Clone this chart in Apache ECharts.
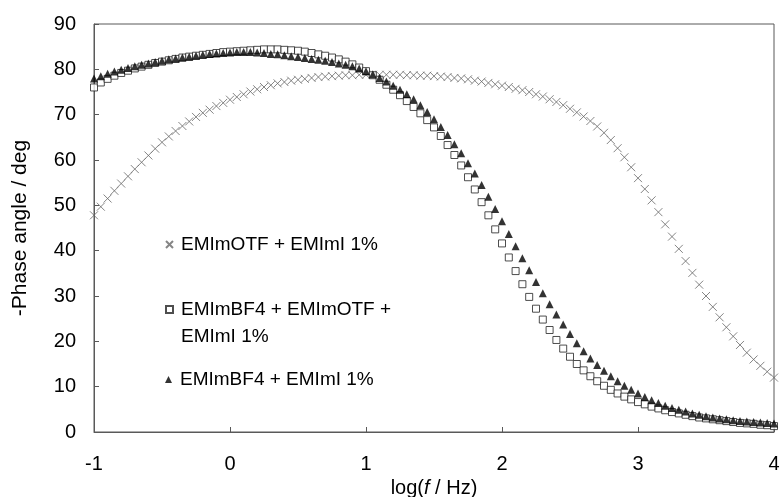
<!DOCTYPE html>
<html>
<head>
<meta charset="utf-8">
<script src="https://cdn.jsdelivr.net/npm/echarts@6/dist/echarts.min.js"></script>
<style>html,body{margin:0;padding:0;background:#fff;}#c{width:780px;height:497px;}</style>
</head>
<body>
<div id="c"></div>
<script>
var logF = [-1.00,-0.95,-0.90,-0.85,-0.80,-0.75,-0.70,-0.65,-0.60,-0.55,-0.50,-0.45,-0.40,-0.35,-0.30,-0.25,-0.20,-0.15,-0.10,-0.05,
0.00,0.05,0.10,0.15,0.20,0.25,0.30,0.35,0.40,0.45,0.50,0.55,0.60,0.65,0.70,0.75,0.80,0.85,0.90,0.95,
1.00,1.05,1.10,1.15,1.20,1.25,1.30,1.35,1.40,1.45,1.50,1.55,1.60,1.65,1.70,1.75,1.80,1.85,1.90,1.95,
2.00,2.05,2.10,2.15,2.20,2.25,2.30,2.35,2.40,2.45,2.50,2.55,2.60,2.65,2.70,2.75,2.80,2.85,2.90,2.95,
3.00,3.05,3.10,3.15,3.20,3.25,3.30,3.35,3.40,3.45,3.50,3.55,3.60,3.65,3.70,3.75,3.80,3.85,3.90,3.95,4.00];

var phaseOTF = [47.8,49.7,51.5,53.2,54.8,56.4,58.0,59.5,61.0,62.5,63.9,65.2,66.4,67.5,68.5,69.5,70.4,71.1,71.9,72.6,
73.3,73.9,74.5,75.1,75.6,76.1,76.5,76.9,77.2,77.5,77.7,77.9,78.1,78.3,78.4,78.5,78.6,78.7,78.7,78.8,
78.8,78.8,78.8,78.8,78.8,78.8,78.7,78.7,78.6,78.6,78.5,78.4,78.3,78.1,78.0,77.8,77.5,77.3,77.0,76.7,
76.4,76.1,75.7,75.4,75.0,74.5,74.0,73.4,72.8,72.1,71.3,70.5,69.6,68.6,67.4,66.0,64.4,62.6,60.6,58.4,
56.0,53.6,51.1,48.5,45.8,43.1,40.4,37.7,35.1,32.5,30.0,27.6,25.3,23.1,21.1,19.2,17.5,16.0,14.6,13.3,12.0];

var phaseBF4OTF = [76.0,77.1,77.9,78.6,79.2,79.7,80.2,80.6,81.0,81.4,81.7,82.0,82.3,82.6,82.8,83.0,83.2,83.4,83.6,83.8,
83.9,84.0,84.1,84.2,84.3,84.4,84.4,84.4,84.3,84.2,84.1,83.9,83.6,83.3,83.0,82.6,82.2,81.7,81.1,80.4,
79.6,78.7,77.7,76.6,75.5,74.3,73.0,71.7,70.3,68.8,67.2,65.3,63.3,61.1,58.8,56.2,53.5,50.7,47.8,44.7,
41.6,38.5,35.5,32.6,29.8,27.2,24.8,22.5,20.3,18.4,16.6,15.0,13.6,12.3,11.2,10.2,9.3,8.5,7.8,7.2,
6.6,6.1,5.6,5.2,4.8,4.4,4.1,3.8,3.5,3.2,3.0,2.8,2.6,2.4,2.2,2.0,1.9,1.8,1.6,1.5,1.3];

var phaseBF4 = [78.0,78.5,79.0,79.5,79.9,80.3,80.7,81.0,81.3,81.6,81.9,82.2,82.4,82.6,82.8,83.0,83.2,83.4,83.5,83.6,
83.7,83.8,83.8,83.8,83.7,83.6,83.4,83.3,83.1,82.9,82.7,82.5,82.3,82.1,81.9,81.6,81.3,81.0,80.7,80.2,
79.6,78.9,78.1,77.3,76.4,75.5,74.5,73.4,72.1,70.6,69.0,67.3,65.5,63.5,61.5,59.3,57.0,54.5,51.9,49.2,
46.5,43.7,41.0,38.3,35.7,33.1,30.6,28.2,25.9,23.7,21.6,19.6,17.8,16.2,14.8,13.5,12.3,11.2,10.2,9.3,
8.5,7.7,7.0,6.4,5.8,5.3,4.9,4.5,4.1,3.8,3.5,3.2,3.0,2.8,2.6,2.4,2.3,2.2,2.1,2.0,1.9];

var seriesNames = ['EMImOTF + EMImI 1%', 'EMImBF4 + EMImOTF + EMImI 1%', 'EMImBF4 + EMImI 1%'];
var xTicks = [-1, 0, 1, 2, 3, 4];
var yTicks = [0, 10, 20, 30, 40, 50, 60, 70, 80, 90];

function pairs(ys) { return logF.map(function (x, i) { return [x, ys[i]]; }); }

var FONT = "'Liberation Sans', Arial, sans-serif";
var AX = '#595959';
var chart = echarts.init(document.getElementById('c'), null, {renderer: 'canvas'});
var legendText = {fontFamily: FONT, fontSize: 19, color: '#000', padding: [0, 0, 0, 3]};
var legendBase = {
  orient: 'vertical', padding: 0, itemWidth: 7, itemHeight: 7, itemGap: 0,
  textStyle: legendText,
  selectedMode: false
};
chart.setOption({
  animation: false,
  backgroundColor: '#fff',
  grid: {left: 94, right: 6, top: 24, bottom: 65, show: true, borderColor: AX, borderWidth: 1,
         backgroundColor: 'transparent', containLabel: false, outerBoundsMode: 'none'},
  xAxis: {
    type: 'value', min: xTicks[0], max: xTicks[xTicks.length - 1], interval: 1,
    axisLine: {show: true, onZero: false, lineStyle: {color: AX, width: 1}},
    axisTick: {show: true, inside: true, length: 5, lineStyle: {color: AX}},
    splitLine: {show: false},
    axisLabel: {fontFamily: FONT, fontSize: 20, color: '#000', margin: 22},
    name: '{n|log(}{i|f}{n| / Hz)}', nameLocation: 'middle', nameGap: 42,
    nameTextStyle: {rich: {
      n: {fontFamily: FONT, fontSize: 20, color: '#000'},
      i: {fontFamily: FONT, fontSize: 20, color: '#000', fontStyle: 'italic'}
    }}
  },
  yAxis: {
    type: 'value', min: yTicks[0], max: yTicks[yTicks.length - 1], interval: 10,
    axisLine: {show: true, onZero: false, lineStyle: {color: AX, width: 1}},
    axisTick: {show: true, inside: true, length: 5, lineStyle: {color: AX}},
    splitLine: {show: false},
    axisLabel: {fontFamily: FONT, fontSize: 20, color: '#000', margin: 18},
    name: '-Phase angle / deg', nameLocation: 'middle', nameGap: 63,
    nameTextStyle: {fontFamily: FONT, fontSize: 21, color: '#000'}
  },
  legend: [
    Object.assign({}, legendBase, {data: [seriesNames[0]], left: 165, top: 235}),
    Object.assign({}, legendBase, {data: [seriesNames[1]], left: 165, top: 269,
      formatter: function () { return '\nEMImBF4 + EMImOTF +\nEMImI 1%'; },
      textStyle: Object.assign({}, legendText, {lineHeight: 27})}),
    Object.assign({}, legendBase, {data: [seriesNames[2]], left: 165, top: 370})
  ],
  series: [
    {
      name: seriesNames[0], type: 'scatter', data: pairs(phaseOTF),
      symbol: 'path://M0,0L10,10M10,0L0,10', symbolSize: 8,
      itemStyle: {color: 'rgba(0,0,0,0)', borderColor: '#666', borderWidth: 1}
    },
    {
      name: seriesNames[1], type: 'scatter', data: pairs(phaseBF4OTF),
      symbol: 'rect', symbolSize: 7,
      itemStyle: {color: '#fff', borderColor: '#222', borderWidth: 1}
    },
    {
      name: seriesNames[2], type: 'scatter', data: pairs(phaseBF4),
      symbol: 'triangle', symbolSize: 8,
      itemStyle: {color: '#000', borderWidth: 0}
    }
  ]
});
</script>
</body>
</html>
